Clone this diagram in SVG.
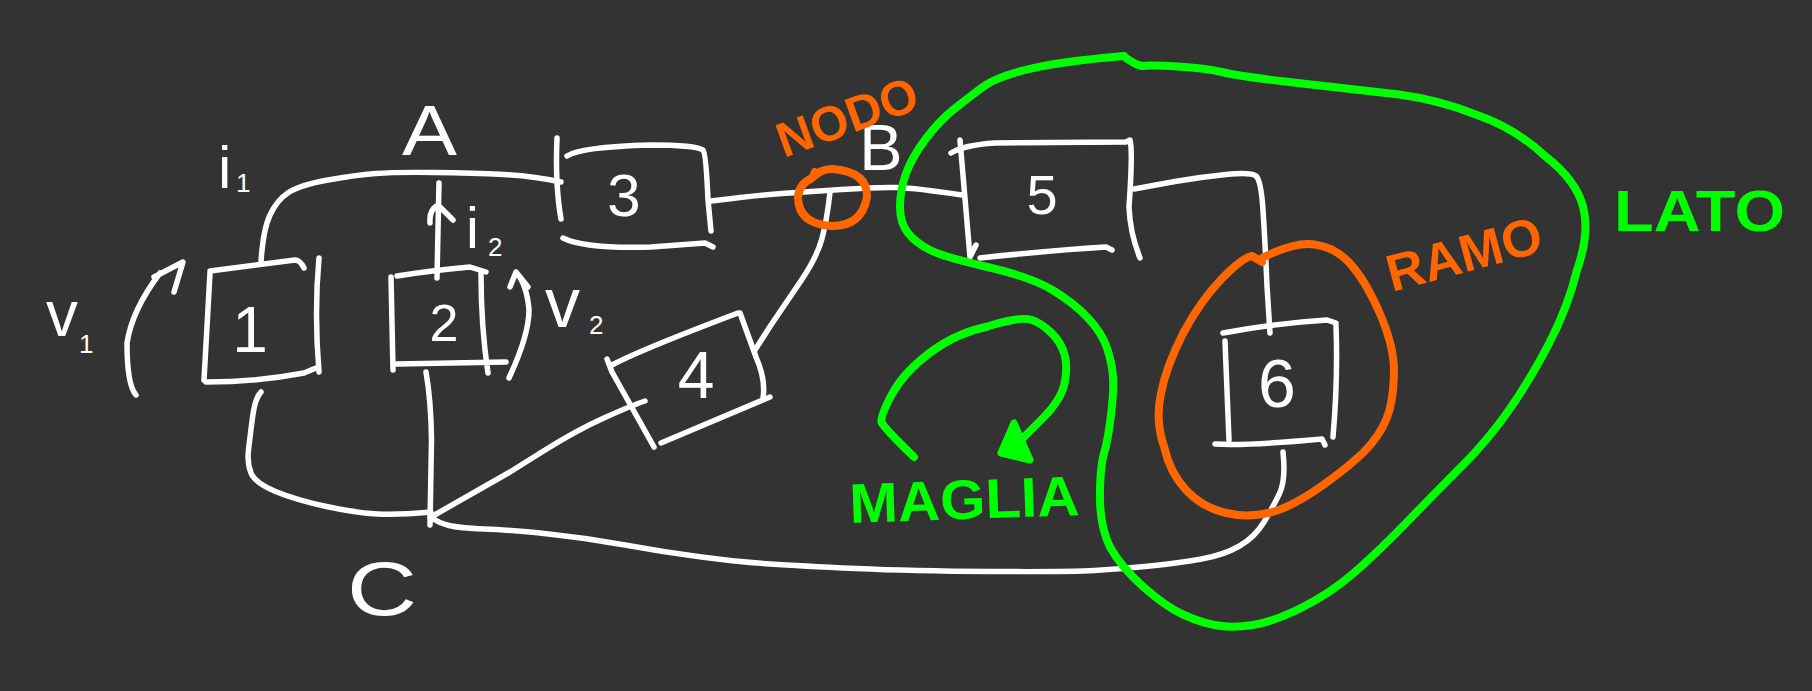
<svg xmlns="http://www.w3.org/2000/svg" width="1812" height="691" viewBox="0 0 1812 691">
<style>
path,ellipse{fill:none;stroke-linecap:round;stroke-linejoin:round}
.w{stroke:#fff;stroke-width:5.5}
.g{stroke:#0f0;stroke-width:8}
.o{stroke:#f60;stroke-width:8}
.head{fill:#0f0;stroke:#0f0;stroke-width:7}
text{font-family:"Liberation Sans",Arial,sans-serif}
.lw{fill:#fff}
.lg{fill:#0f0;font-weight:bold}
.lo{fill:#f60;font-weight:bold}
</style>
<rect width="1812" height="691" fill="#333"/>
<g id="connectors">
<path id="wire-1-3" class="w" d="M261,262 Q263,230 270,215 Q277,200 288.5,192.5 Q300,185 328,180 Q356,175 375.5,173.5 Q395,172 434.5,172.5 Q474,173 504,174.5 Q534,176 561,182"/>
<path id="wire-3-5" class="w" d="M711,201 Q758,195 782,193.5 Q806,192 841.5,189.5 Q877,187 896.5,187.5 Q916,188 962,195"/>
<path id="wire-5-6" class="w" d="M1134,189 Q1150,186 1175,181.5 Q1201,177 1226,174.5 Q1251,172 1256,176 Q1261,180 1263,210 Q1265,240 1267,286 L1270,333"/>
<path id="wire-6-c" class="w" d="M1283,452 Q1286,480 1279.5,493.5 Q1273,507 1264,522 Q1255,537 1239.5,546 Q1224,555 1201.5,559 Q1179,563 1150,566 Q1121,569 1094.5,570.5 Q1068,572 990,571.5 Q912,571 856,568.5 Q800,566 770,564 Q740,562 701.5,557 Q663,552 625,545 Q587,538 548.5,534 Q510,530 484.5,529 Q459,528 449,525.5 Q439,523 430,517"/>
<path id="wire-c-4" class="w" d="M431,517 L510,472 L543.5,451 Q577,430 605,417.5 Q633,405 645,401"/>
<path id="wire-2-c" class="w" d="M426,372 Q431,400 431.5,440 L430,525"/>
<path id="wire-1-c" class="w" d="M261,392 Q255,398 252.5,417.5 Q250,437 248.5,450 Q247,463 251,473 Q255,483 275.5,491.5 Q296,500 326.5,506.5 Q357,513 377.5,514 Q398,515 431,512"/>
<path id="wire-4-b" class="w" d="M755,350 L770,326.5 Q786,303 801.5,280 Q817,257 822,238.5 Q827,220 830,192"/>
<path id="arrow-i2" class="w" d="M437,278 L439,183 M430,223 Q429,210 438,205 L453,220"/>
<path id="arrow-v1" class="w" d="M136,395 Q127,385 127,343 Q132,310 160,273 M154,277 L183,262 L174,292"/>
<path id="arrow-v2" class="w" d="M509,378 Q529,335 529,310 Q527,285 516,272 M510,287 L516,272 L528,287"/>
</g>
<g id="node-1"><path class="w" d="M210,271 L295,260 Q300,260 304,268 M210,273 L204,380 M206,382 Q257,382 304,373 L316,368 M319,258 Q314,313 319,372"/><text class="lw" x="250" y="352" font-size="64" text-anchor="middle">1</text></g>
<g id="node-2"><path class="w" d="M397,276 Q435,270 470,267 L486,272 M391,277 L393,370 M397,364 L506,362 M481,273 Q481,327 488,373"/><text class="lw" x="444" y="341" font-size="52" text-anchor="middle">2</text></g>
<g id="node-3"><path class="w" d="M557,138 Q555,185 561,219 M567,156 Q580,147 650,145 Q695,145 703,150 Q706,153 708,200 L711,231 M563,238 Q585,249 651,247 L705,243 L713,247"/><text class="lw" x="624" y="216" font-size="60" text-anchor="middle">3</text></g>
<g id="node-4"><path class="w" d="M607,359 L612,372 L654,447 M612,365 Q640,350 738,313 M740,313 L756,357 Q766,380 763,398 M770,397 L661,443"/><text class="lw" x="696" y="398" font-size="66" text-anchor="middle">4</text></g>
<g id="node-5"><path class="w" d="M960,140 L970,257 L976,245 M951,153 Q964,145 995,143 L1126,142 L1130,140 Q1133,150 1129,207 Q1130,233 1140,258 M980,258 Q1055,250 1106,247 L1112,250"/><text class="lw" x="1042" y="214" font-size="56" text-anchor="middle">5</text></g>
<g id="node-6"><path class="w" d="M1223,333 Q1277,323 1327,320 L1336,323 M1336,325 Q1338,380 1333,437 M1225,341 L1229,440 M1215,444 Q1246,446 1322,439 L1325,445"/><text class="lw" x="1277" y="407" font-size="68" text-anchor="middle">6</text></g>
<g id="label-a"><text class="lw" x="402" y="155" font-size="70" textLength="55" lengthAdjust="spacingAndGlyphs">A</text></g>
<g id="label-b"><text class="lw" x="881" y="170" font-size="65" text-anchor="middle">B</text></g>
<g id="label-c"><text class="lw" x="347" y="615" font-size="76" textLength="70" lengthAdjust="spacingAndGlyphs">C</text></g>
<g id="label-i1"><text class="lw" font-size="60"><tspan x="218" y="188">i</tspan><tspan x="236" y="192" font-size="26">1</tspan></text></g>
<g id="label-i2"><text class="lw" font-size="58"><tspan x="466" y="248">i</tspan><tspan x="488" y="256" font-size="26">2</tspan></text></g>
<g id="label-v1"><text class="lw" font-size="64"><tspan x="46" y="336">v</tspan><tspan x="79" y="353" font-size="26">1</tspan></text></g>
<g id="label-v2"><text class="lw" font-size="70"><tspan x="545" y="327">v</tspan><tspan x="589" y="334" font-size="26">2</tspan></text></g>
<g id="nodo">
<path class="o" d="M812,178 Q822,168 833,169 Q868,172 867,197 Q862,226 832,226 Q798,224 798,197 Q799,184 812,178 L815,172"/>
<text class="lo" font-size="49" transform="translate(784 158) rotate(-20)">NODO</text>
</g>
<g id="ramo">
<path class="o" d="M1262,258 Q1298,240 1317,245 Q1336,248 1350.5,264 Q1365,280 1379,311.5 Q1393,343 1394,368 Q1394,393 1389.5,410 Q1385,427 1371.5,443.5 Q1358,460 1324.5,484 Q1291,508 1268.5,513 Q1246,518 1224,512.5 Q1202,507 1186,490 Q1170,473 1164,446.5 Q1155,420 1161,393.5 Q1166,367 1183,333.5 Q1201,300 1222,278.5 Q1243,257 1252,256 L1262,262"/>
<text class="lo" font-size="52" transform="translate(1392 292) rotate(-15)">RAMO</text>
</g>
<g id="lato">
<path class="g" d="M1124,56 Q1055,62 1025,70 Q995,78 983.5,86.5 Q972,95 956,107.5 Q940,120 926,138.5 Q912,157 906,173.5 Q900,190 900,206.5 Q900,223 908,233 Q916,243 930,250 Q944,257 987.5,267 Q1031,277 1052.5,290 Q1074,303 1088,318 Q1102,333 1107,348 Q1112,363 1113,376.5 Q1114,390 1111,415 Q1108,440 1104,453.5 Q1100,467 1100,497 Q1100,527 1110,547 Q1121,567 1143.5,587 Q1166,607 1184,615 Q1202,623 1217.5,625.5 Q1233,628 1253,625 Q1273,622 1302,607.5 Q1331,593 1355.5,571.5 Q1380,550 1409,520 Q1438,490 1463,465 Q1488,440 1509,410 Q1530,380 1549,343.5 Q1568,307 1577,270 Q1590,233 1583,206.5 Q1576,180 1545,156 Q1515,128 1477,115 Q1440,100 1399,94.5 Q1361,90 1302,83.5 Q1243,77 1224,72.5 Q1205,68 1177.5,66.5 Q1150,65 1142,66 Q1136,65 1126,58"/>
<text class="lg" x="1614" y="231" font-size="58" textLength="171" lengthAdjust="spacingAndGlyphs">LATO</text>
</g>
<g id="maglia">
<path class="g" d="M914,457 Q883,427 881.5,422 Q880,417 891.5,395 Q903,373 929.5,353 Q956,333 987.5,326.5 Q1019,316 1032,320 Q1041,323 1051,332.5 Q1061,342 1064.5,354.5 Q1068,367 1064.5,383.5 Q1061,400 1042,419 L1023,438"/>
<path class="head" d="M1014,423 L1001,453 L1030,460 Z"/>
<text class="lg" font-size="56" transform="translate(850 523) rotate(-2)" textLength="230" lengthAdjust="spacingAndGlyphs">MAGLIA</text>
</g>
</svg>
